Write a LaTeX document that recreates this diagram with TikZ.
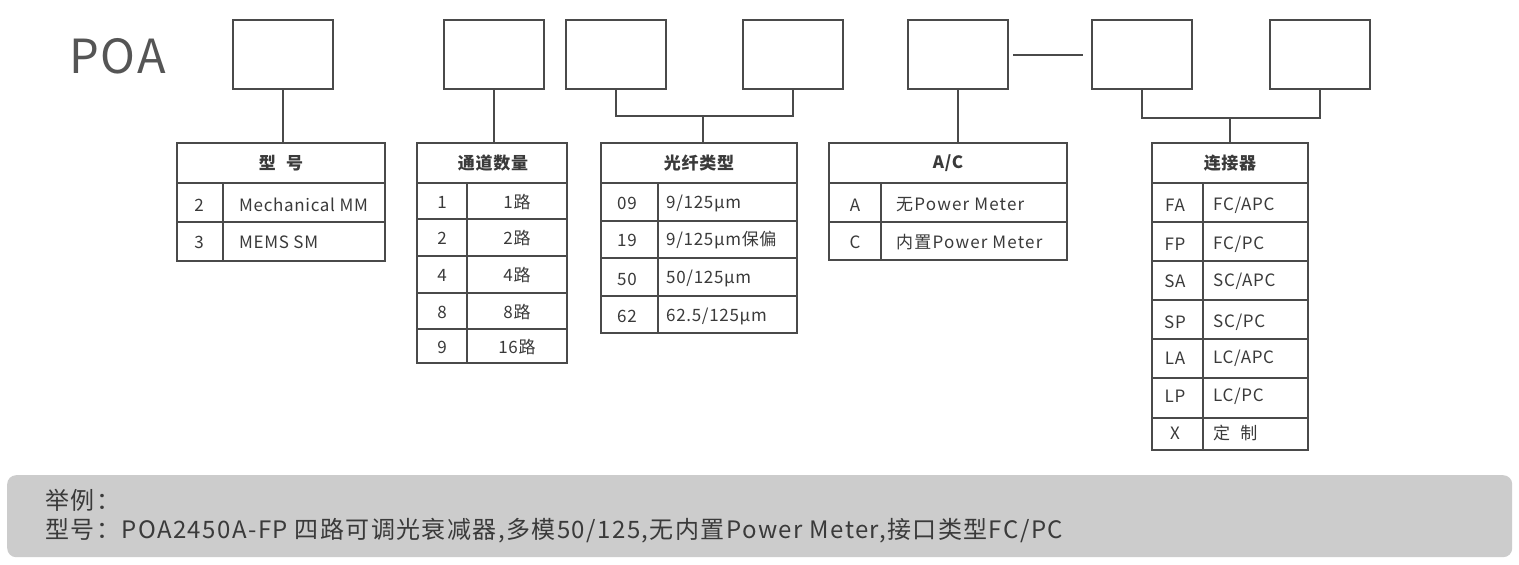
\documentclass[tikz,border=0pt]{standalone}
\usepackage{fontspec}
\setmainfont[LetterSpace=4]{Noto Sans CJK SC}
\begin{document}
\begin{tikzpicture}[x=1pt,y=-1pt,
  ln/.style={draw=lnc,line width=2pt},
  bx/.style={draw=lnc,line width=2pt,minimum width=100pt,minimum height=69pt,inner sep=0pt,anchor=north west},
  txt/.style={text=txc,inner sep=0pt,font=\fontsize{17}{20}\selectfont},
  hd/.style={text=txc,inner sep=0pt,font=\fontsize{17}{20}\selectfont\bfseries},
  lt/.style={txt,anchor=west},
  ct/.style={txt,anchor=center},
  ext/.style={text=txc,inner sep=0pt,anchor=west,font=\fontsize{24}{27}\selectfont\addfontfeatures{LetterSpace=6}}]
\definecolor{lnc}{HTML}{4A4A4A}
\definecolor{txc}{HTML}{3A3A3A}
\definecolor{poac}{HTML}{555555}
\definecolor{grayb}{HTML}{CCCCCC}
\useasboundingbox (0,0) rectangle (1519,565);
\fill[white] (0,0) rectangle (1519,565);
% title
\node[text=poac,inner sep=0pt,anchor=west,font=\fontsize{47}{50}\selectfont] (poa) at (69,56) {POA};
% top boxes
\node[bx] (b1) at (232,19) {};
\node[bx] (b2) at (443,19) {};
\node[bx] (b3) at (565,19) {};
\node[bx] (b4) at (742,19) {};
\node[bx] (b5) at (907,19) {};
\node[bx] (b6) at (1091,19) {};
\node[bx] (b7) at (1269,19) {};
\coordinate (d5) at (1013,55);
\coordinate (d6) at (1083,55);
\draw[ln] (d5) -- (d6);
% ---------- table 1 ----------
\draw[ln] (177,143) rectangle (385,261);
\draw[ln] (177,183) -- (385,183) (177,222) -- (385,222) (223,183) -- (223,261);
\node[hd] (t1h) at (281,163) {型\hspace{0.6em}号};
\node[ct] (t1a1) at (199,205) {2};
\node[lt] (t1a2) at (239,205) {Mechanical MM};
\node[ct] (t1b1) at (199,242) {3};
\node[lt] (t1b2) at (239,242) {MEMS SM};
\draw[ln] (b1.south) -- (b1.south |- 0,143);
% ---------- table 2 ----------
\draw[ln] (417,143) rectangle (567,363);
\draw[ln] (417,183) -- (567,183) (417,219) -- (567,219) (417,256) -- (567,256)
  (417,293) -- (567,293) (417,329) -- (567,329) (467,183) -- (467,363);
\node[hd] (t2h) at (493,163) {通道数量};
\node[ct] (t2a1) at (442,202) {1};
\node[ct] (t2a2) at (517,202) {1路};
\node[ct] (t2b1) at (442,238) {2};
\node[ct] (t2b2) at (517,238) {2路};
\node[ct] (t2c1) at (442,275) {4};
\node[ct] (t2c2) at (517,275) {4路};
\node[ct] (t2d1) at (442,312) {8};
\node[ct] (t2d2) at (517,312) {8路};
\node[ct] (t2e1) at (442,347) {9};
\node[ct] (t2e2) at (517,347) {16路};
\draw[ln] (b2.south) -- (b2.south |- 0,143);
% ---------- table 3 ----------
\draw[ln] (601,143) rectangle (797,333);
\draw[ln] (601,183) -- (797,183) (601,221) -- (797,221) (601,258) -- (797,258)
  (601,296) -- (797,296) (658,183) -- (658,333);
\node[hd] (t3h) at (699,163) {光纤类型};
\node[ct] (t3a1) at (627,203) {09};
\node[lt] (t3a2) at (666,203) {9/125µm};
\node[ct] (t3b1) at (627,240) {19};
\node[lt] (t3b2) at (666,240) {9/125µm保偏};
\node[ct] (t3c1) at (627,279) {50};
\node[lt] (t3c2) at (666,278) {50/125µm};
\node[ct] (t3d1) at (627,316) {62};
\node[lt] (t3d2) at (666,316) {62.5/125µm};
\coordinate (j3) at (703,116);
\draw[ln] (b3.south) |- (j3) -| (b4.south);
\draw[ln] (j3) -- (j3 |- 0,143);
% ---------- table 4 ----------
\draw[ln] (829,143) rectangle (1067,260);
\draw[ln] (829,183) -- (1067,183) (829,222) -- (1067,222) (881,183) -- (881,260);
\node[hd] (t4h) at (948,163) {A/C};
\node[ct] (t4a1) at (855,205) {A};
\node[lt,font=\fontsize{17}{20}\selectfont\addfontfeatures{LetterSpace=7}] (t4a2) at (896,205) {无Power Meter};
\node[ct] (t4b1) at (855,242) {C};
\node[lt,font=\fontsize{17}{20}\selectfont\addfontfeatures{LetterSpace=7}] (t4b2) at (896,242) {内置Power Meter};
\draw[ln] (b5.south) -- (b5.south |- 0,143);
% ---------- table 5 ----------
\draw[ln] (1152,143) rectangle (1308,450);
\draw[ln] (1152,183) -- (1308,183) (1152,222) -- (1308,222) (1152,261) -- (1308,261)
  (1152,300) -- (1308,300) (1152,339) -- (1308,339) (1152,378) -- (1308,378)
  (1152,418) -- (1308,418) (1203,183) -- (1203,450);
\node[hd] (t5h) at (1230,163) {连接器};
\node[ct] (t5a1) at (1175,205) {FA};
\node[lt] (t5a2) at (1213,205) {FC/APC};
\node[ct] (t5b1) at (1175,244) {FP};
\node[lt] (t5b2) at (1213,244) {FC/PC};
\node[ct] (t5c1) at (1175,281) {SA};
\node[lt] (t5c2) at (1213,281) {SC/APC};
\node[ct] (t5d1) at (1175,322) {SP};
\node[lt] (t5d2) at (1213,322) {SC/PC};
\node[ct] (t5e1) at (1175,358) {LA};
\node[lt] (t5e2) at (1213,358) {LC/APC};
\node[ct] (t5f1) at (1175,396) {LP};
\node[lt] (t5f2) at (1213,396) {LC/PC};
\node[ct] (t5g1) at (1175,433) {X};
\node[lt] (t5g2) at (1213,433) {定\hspace{0.6em}制};
\coordinate (j5) at (1230,118);
\draw[ln] (b6.south) |- (j5) -| (b7.south);
\draw[ln] (j5) -- (j5 |- 0,143);
% ---------- example box ----------
\node[fill=grayb,rounded corners=9pt,minimum width=1505pt,minimum height=82pt,inner sep=0pt,anchor=north west] (ex) at (7,475) {};
\node[ext] (ex1) at (45,500) {举例：};
\node[ext] (ex2) at (45,531) {型号：POA2450A-FP 四路可调光衰减器,多模50/125,无内置Power Meter,接口类型FC/PC};
\end{tikzpicture}
\end{document}
